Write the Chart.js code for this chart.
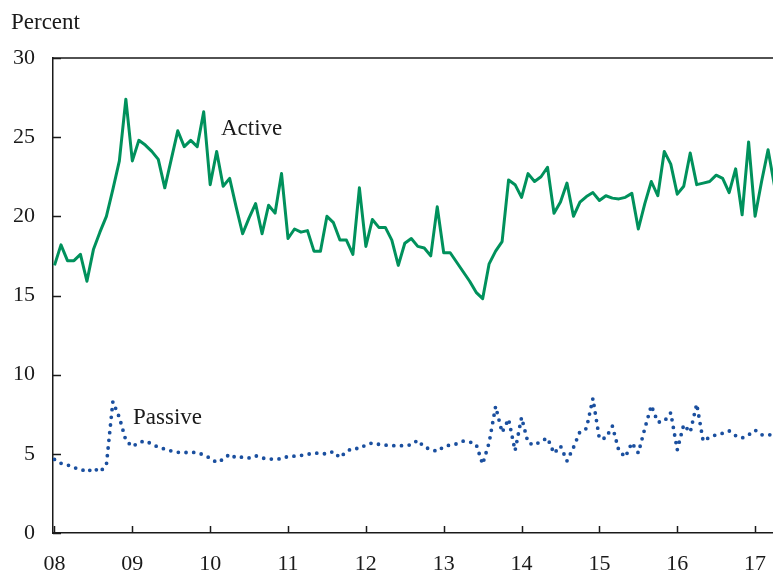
<!DOCTYPE html>
<html>
<head>
<meta charset="utf-8">
<script src="https://cdn.jsdelivr.net/npm/chart.js@4.4.1/dist/chart.umd.min.js"></script>
<style>
  html, body { margin: 0; padding: 0; background: #fff; }
  #chart { display: block; }
</style>
</head>
<body>
<canvas id="chart" width="773" height="574"></canvas>
<script>
'use strict';

// monthly, Jan 2008 onward (index = months since Jan 2008)
let active = [
    16.9, 18.2, 17.2, 17.2, 17.6, 15.9, 17.9, 19.0, 20.0, 21.7, 23.5, 27.4,
    23.5, 24.8, 24.5, 24.1, 23.6, 21.8, 23.6, 25.4, 24.4, 24.8, 24.4, 26.6,
    22.0, 24.1, 21.9, 22.4, 20.6, 18.9, 19.9, 20.8, 18.9, 20.7, 20.2, 22.7,
    18.6, 19.2, 19.0, 19.1, 17.8, 17.8, 20.0, 19.6, 18.5, 18.5, 17.6, 21.8,
    18.1, 19.8, 19.3, 19.3, 18.5, 16.9, 18.3, 18.6, 18.1, 18.0, 17.5, 20.6,
    17.7, 17.7, 17.1, 16.5, 15.9, 15.2, 14.8, 17.0, 17.8, 18.4, 22.3, 22.0,
    21.2, 22.7, 22.2, 22.5, 23.1, 20.2, 20.9, 22.1, 20.0, 20.9, 21.25, 21.5,
    21.0, 21.3, 21.15, 21.1, 21.2, 21.45, 19.2, 20.8, 22.2, 21.3, 24.1, 23.3,
    21.4, 21.9, 24.0, 22.0, 22.1, 22.2, 22.6, 22.4, 21.5, 23.0, 20.1, 24.7,
    20.0, 22.2, 24.2, 21.9
];

let passive = [
    4.65, 4.4, 4.3, 4.12, 4.05, 3.85, 4.1, 3.85, 4.3, 8.3, 7.3, 5.85,
    5.45, 5.72, 5.82, 5.62, 5.42, 5.3, 5.18, 5.1, 5.08, 5.1, 5.08, 4.93,
    4.73, 4.45, 4.65, 4.98, 4.74, 4.8, 4.74, 4.88, 4.74, 4.67, 4.67, 4.68,
    4.84, 4.85, 4.9, 4.97, 5.05, 5.03, 4.99, 5.15, 4.76, 5.15, 5.35, 5.33,
    5.56, 5.69, 5.6, 5.55, 5.52, 5.51, 5.52, 5.57, 5.86, 5.42, 5.29, 5.15,
    5.45, 5.56, 5.63, 5.8, 5.75, 5.6, 4.35, 5.7, 8.0, 6.35, 7.2, 5.2,
    7.3, 5.7, 5.55, 5.8, 6.0, 5.03, 5.5, 4.55, 5.4, 6.4, 6.6, 8.5,
    5.95, 6.0, 6.75, 5.2, 4.8, 5.7, 5.05, 6.6, 8.05, 7.0, 7.05, 7.6,
    5.25, 6.84, 6.36, 8.15, 5.8, 6.05, 6.2, 6.3, 6.45, 6.15, 6.0, 6.2,
    6.5, 6.2, 6.2, 6.2
];

let yearTicks = [0, 12, 24, 36, 48, 60, 72, 84, 96, 108];
let yearLabels = ['08', '09', '10', '11', '12', '13', '14', '15', '16', '17'];
let yTicks = [0, 5, 10, 15, 20, 25, 30];

const serif = '"Liberation Serif", "DejaVu Serif", serif';
const ink = '#1a1a1a';

function toPoints(values) {
    return values.map((v, i) => ({ x: i, y: v }));
}

// frame top line, inward tick marks and the text labels
const decorations = {
    id: 'decorations',
    afterDraw(chart) {
        const ctx = chart.ctx;
        const area = chart.chartArea;
        const xs = chart.scales.x;
        const ys = chart.scales.y;
        ctx.save();
        ctx.strokeStyle = ink;
        ctx.lineWidth = 1.5;
        ctx.beginPath();
        ctx.moveTo(area.left, area.top);
        ctx.lineTo(area.right, area.top);
        yTicks.forEach(t => {
            const py = Math.round(ys.getPixelForValue(t)) + 0.5;
            ctx.moveTo(area.left, py);
            ctx.lineTo(area.left + 8, py);
        });
        yearTicks.forEach(t => {
            const px = Math.round(xs.getPixelForValue(t)) + 0.5;
            ctx.moveTo(px, area.bottom);
            ctx.lineTo(px, area.bottom - 7);
        });
        ctx.stroke();

        ctx.fillStyle = ink;
        ctx.font = '23px ' + serif;
        ctx.textBaseline = 'alphabetic';
        ctx.textAlign = 'left';
        ctx.fillText('Percent', 11, 29);
        ctx.fillText('Active', 221, 135);
        ctx.fillText('Passive', 133, 424);
        ctx.restore();
    }
};

const canvasEl = document.getElementById('chart');

new Chart(canvasEl, {
    type: 'line',
    data: {
        datasets: [{
            label: 'Active',
            data: toPoints(active),
            borderColor: '#00915c',
            borderWidth: 3,
            pointRadius: 0,
            tension: 0,
            borderJoinStyle: 'round'
        }, {
            label: 'Passive',
            data: toPoints(passive),
            borderColor: '#1a4f9f',
            borderWidth: 3.8,
            borderDash: [0, 7.7],
            borderCapStyle: 'round',
            pointRadius: 0,
            tension: 0
        }]
    },
    options: {
        responsive: false,
        animation: false,
        layout: { padding: { top: 58, right: 0, left: 0, bottom: 0 } },
        plugins: {
            legend: { display: false },
            tooltip: { enabled: false }
        },
        scales: {
            x: {
                type: 'linear',
                min: -0.23,
                max: 110.76,
                afterBuildTicks: scale => {
                    scale.ticks = yearTicks.map(v => ({ value: v }));
                },
                afterFit: scale => {
                    scale.height = 41;
                    scale.paddingLeft = 0;
                    scale.paddingRight = 0;
                },
                ticks: {
                    autoSkip: false,
                    maxRotation: 0,
                    padding: 18,
                    color: ink,
                    font: { family: serif, size: 22 },
                    callback: (value) => yearLabels[yearTicks.indexOf(value)]
                },
                grid: { drawOnChartArea: false, drawTicks: false },
                border: { display: true, color: ink, width: 1.5 }
            },
            y: {
                min: 0,
                max: 30,
                afterBuildTicks: scale => {
                    scale.ticks = yTicks.map(v => ({ value: v }));
                },
                afterFit: scale => { scale.width = 53; },
                ticks: {
                    padding: 18,
                    color: ink,
                    font: { family: serif, size: 22 }
                },
                grid: { drawOnChartArea: false, drawTicks: false },
                border: { display: true, color: ink, width: 1.5 }
            }
        }
    },
    plugins: [decorations]
});
</script>
</body>
</html>
